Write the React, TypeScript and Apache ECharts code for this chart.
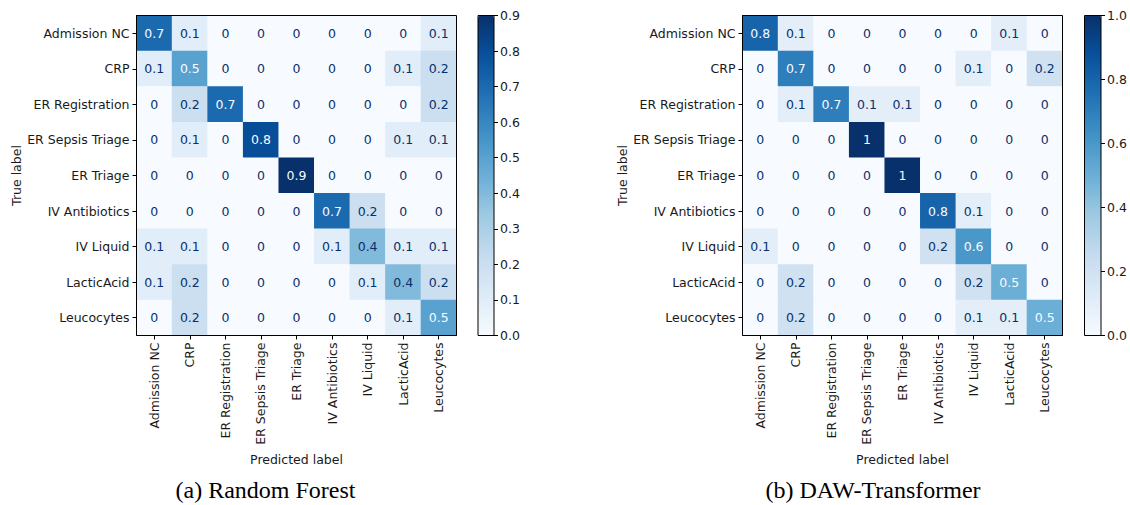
import React, { useEffect, useRef } from "react";
import * as echarts from "echarts";

const categories = [
  "Admission NC",
  "CRP",
  "ER Registration",
  "ER Sepsis Triage",
  "ER Triage",
  "IV Antibiotics",
  "IV Liquid",
  "LacticAcid",
  "Leucocytes",
];

const rfMatrix: number[][] = [
  [0.7, 0.1, 0, 0, 0, 0, 0, 0, 0.1],
  [0.1, 0.5, 0, 0, 0, 0, 0, 0.1, 0.2],
  [0, 0.2, 0.7, 0, 0, 0, 0, 0, 0.2],
  [0, 0.1, 0, 0.8, 0, 0, 0, 0.1, 0.1],
  [0, 0, 0, 0, 0.9, 0, 0, 0, 0],
  [0, 0, 0, 0, 0, 0.7, 0.2, 0, 0],
  [0.1, 0.1, 0, 0, 0, 0.1, 0.4, 0.1, 0.1],
  [0.1, 0.2, 0, 0, 0, 0, 0.1, 0.4, 0.2],
  [0, 0.2, 0, 0, 0, 0, 0, 0.1, 0.5],
];

const dawMatrix: number[][] = [
  [0.8, 0.1, 0, 0, 0, 0, 0, 0.1, 0],
  [0, 0.7, 0, 0, 0, 0, 0.1, 0, 0.2],
  [0, 0.1, 0.7, 0.1, 0.1, 0, 0, 0, 0],
  [0, 0, 0, 1, 0, 0, 0, 0, 0],
  [0, 0, 0, 0, 1, 0, 0, 0, 0],
  [0, 0, 0, 0, 0, 0.8, 0.1, 0, 0],
  [0.1, 0, 0, 0, 0, 0.2, 0.6, 0, 0],
  [0, 0.2, 0, 0, 0, 0, 0.2, 0.5, 0],
  [0, 0.2, 0, 0, 0, 0, 0.1, 0.1, 0.5],
];

const rfColorbarMax = 0.9;
const rfColorbarInterval = 0.1;
const dawColorbarMax = 1.0;
const dawColorbarInterval = 0.2;

const captions = ["(a) Random Forest", "(b) DAW-Transformer"];

const BLUES = [
  "#f7fbff",
  "#deebf7",
  "#c6dbef",
  "#9ecae1",
  "#6baed6",
  "#4292c6",
  "#2171b5",
  "#08519c",
  "#08306b",
];

const FONT = "DejaVu Sans";
const FS = 12.5;
const TXT = "#1a1a1a";

function buildData(m: number[][], vmax: number) {
  const thresh = vmax / 2;
  const out: any[] = [];
  m.forEach((row, yi) => {
    row.forEach((v, xi) => {
      out.push({
        value: [xi, yi, v],
        label: { color: v >= thresh ? BLUES[0] : BLUES[8] },
      });
    });
  });
  return out;
}

export default function App() {
  const ref = useRef<HTMLDivElement>(null);

  useEffect(() => {
    document.body.style.margin = "0";
    if (!ref.current) return;
    const chart = echarts.init(ref.current, undefined, { renderer: "svg" });

    const mats = [
      { left: 136.5, cbLeft: 478, cbWidth: 16, vmax: rfColorbarMax, interval: rfColorbarInterval, data: rfMatrix },
      { left: 742.5, cbLeft: 1084.5, cbWidth: 16.5, vmax: dawColorbarMax, interval: dawColorbarInterval, data: dawMatrix },
    ];
    const top = 15.5;
    const size = 320;

    const grid: any[] = [];
    const xAxis: any[] = [];
    const yAxis: any[] = [];
    const series: any[] = [];
    const visualMap: any[] = [];

    mats.forEach((m, i) => {
      grid.push({
        left: m.left,
        top,
        width: size,
        height: size,
        show: true,
        borderColor: "#000",
        borderWidth: 1,
        z: 10,
      });
      xAxis.push({
        type: "category",
        gridIndex: i * 2,
        data: categories,
        position: "bottom",
        axisLine: { show: true, lineStyle: { color: "#000", width: 1 } },
        axisTick: { show: true, alignWithLabel: true, length: 4, lineStyle: { color: "#000" } },
        axisLabel: { rotate: 90, fontSize: FS, fontFamily: FONT, color: TXT, margin: 7, interval: 0 },
        splitLine: { show: false },
        name: "Predicted label",
        nameLocation: "middle",
        nameGap: 111,
        nameTextStyle: { fontSize: FS, fontFamily: FONT, color: TXT },
      });
      yAxis.push({
        type: "category",
        gridIndex: i * 2,
        data: categories,
        inverse: true,
        axisLine: { show: true, lineStyle: { color: "#000", width: 1 } },
        axisTick: { show: true, alignWithLabel: true, length: 4, lineStyle: { color: "#000" } },
        axisLabel: { fontSize: FS, fontFamily: FONT, color: TXT, margin: 7, interval: 0 },
        splitLine: { show: false },
        name: "True label",
        nameLocation: "middle",
        nameRotate: 90,
        nameGap: 113,
        nameTextStyle: { fontSize: FS, fontFamily: FONT, color: TXT },
      });
      grid.push({
        left: m.cbLeft,
        top,
        width: m.cbWidth,
        height: size,
        show: true,
        borderColor: "#000",
        borderWidth: 1,
        z: 10,
      });
      xAxis.push({
        type: "category",
        gridIndex: i * 2 + 1,
        data: [""],
        show: false,
      });
      yAxis.push({
        type: "value",
        gridIndex: i * 2 + 1,
        min: 0,
        max: m.vmax,
        interval: m.interval,
        position: "right",
        axisLine: { show: false },
        axisTick: { show: true, length: 4, lineStyle: { color: "#000" } },
        axisLabel: {
          fontSize: FS,
          fontFamily: FONT,
          color: TXT,
          margin: 6,
          formatter: (v: number) => v.toFixed(1),
        },
        splitLine: { show: false },
      });

      series.push({
        type: "heatmap",
        xAxisIndex: i * 2,
        yAxisIndex: i * 2,
        data: buildData(m.data, m.vmax),
        label: {
          show: true,
          fontSize: FS,
          fontFamily: FONT,
          formatter: (p: any) => String(p.value[2]),
        },
        itemStyle: { borderWidth: 0 },
        emphasis: { disabled: true },
      });
      series.push({
        type: "scatter",
        xAxisIndex: i * 2 + 1,
        yAxisIndex: i * 2 + 1,
        data: [],
      });

      visualMap.push({
        type: "continuous",
        seriesIndex: i * 2,
        dimension: 2,
        min: 0,
        max: m.vmax,
        calculable: false,
        hoverLink: false,
        orient: "vertical",
        left: m.cbLeft,
        top,
        itemWidth: m.cbWidth,
        itemHeight: size,
        padding: 0,
        text: null,
        inRange: { color: BLUES },
        z: 4,
      });
    });

    chart.setOption({
      animation: false,
      backgroundColor: "#fff",
      grid,
      xAxis,
      yAxis,
      visualMap,
      series,
      graphic: [
        {
          type: "text",
          x: 265.5,
          y: 490,
          style: {
            text: captions[0],
            font: '24px "Liberation Serif"',
            fill: "#000",
            align: "center",
            verticalAlign: "middle",
          },
        },
        {
          type: "text",
          x: 873,
          y: 490,
          style: {
            text: captions[1],
            font: '24px "Liberation Serif"',
            fill: "#000",
            align: "center",
            verticalAlign: "middle",
          },
        },
      ],
    });

    return () => {
      chart.dispose();
    };
  }, []);

  return <div ref={ref} style={{ width: 1130, height: 505 }} />;
}
